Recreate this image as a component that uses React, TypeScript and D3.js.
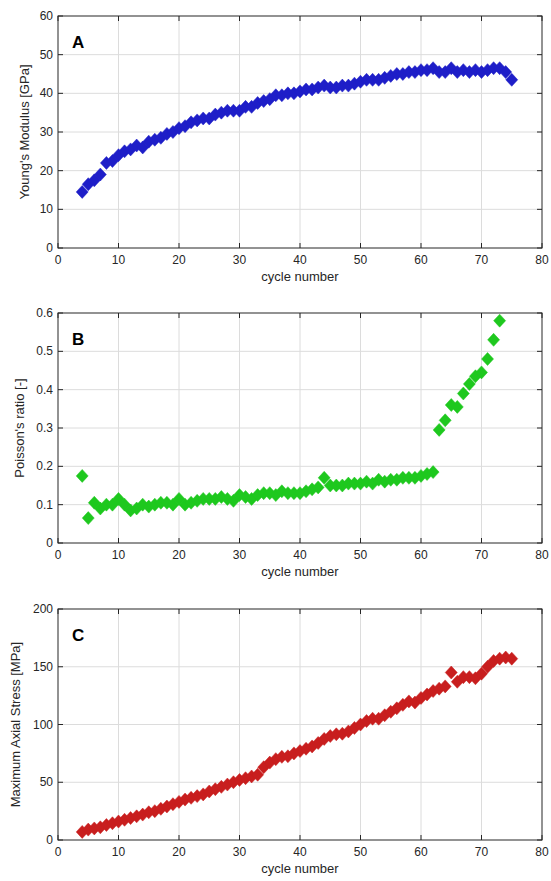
import React from "react";
import * as d3 from "d3";

const cyclesA = d3.range(4, 76);
const youngsModulus = [
  14.5, 16.5, 17.5, 19, 22, 22.5, 24, 25, 25.5, 26.5, 26, 27.5, 28, 28.5, 29.5, 30,
  31, 31.5, 32.5, 33, 33.5, 33.5, 34.5, 35, 35.5, 35.5, 35.5, 36.5, 36.5, 37.5, 38, 38.5,
  39.5, 39.5, 40, 40, 40.5, 41, 41, 41.5, 42, 41.5, 41.5, 42, 42, 42.5, 43, 43.5,
  43.5, 43.5, 44, 44.5, 45, 45, 45.5, 45.5, 46, 46, 46.5, 45.5, 45.5, 46.5, 45.5, 46,
  45.5, 46, 45.5, 46, 46.5, 46.5, 45.5, 43.5,
];

const cyclesB = d3.range(4, 74);
const poissonRatio = [
  0.175, 0.065, 0.105, 0.09, 0.1, 0.1, 0.115, 0.1, 0.085, 0.09, 0.1, 0.095, 0.1, 0.105,
  0.105, 0.1, 0.115, 0.1, 0.105, 0.11, 0.115, 0.115, 0.115, 0.12, 0.115, 0.11, 0.125,
  0.12, 0.115, 0.125, 0.13, 0.13, 0.125, 0.135, 0.13, 0.13, 0.13, 0.135, 0.14, 0.145,
  0.17, 0.15, 0.15, 0.15, 0.155, 0.155, 0.155, 0.16, 0.155, 0.165, 0.16, 0.165, 0.165,
  0.17, 0.17, 0.17, 0.175, 0.18, 0.185, 0.295, 0.32, 0.36, 0.355, 0.39, 0.415, 0.435,
  0.445, 0.48, 0.53, 0.58,
];

const cyclesC = d3.range(4, 76);
const maxAxialStress = [
  7, 9, 10, 11, 13, 14.5, 16, 17.5, 19, 20.5, 22, 24, 25, 27, 29, 31, 33, 35, 36.5, 38,
  39.5, 42, 44, 46, 48, 50, 52, 53.5, 55, 56.5, 63, 67, 70, 72, 72.5, 75, 77, 79, 81, 84,
  87.5, 90, 91.5, 92, 94, 97, 100, 103, 105, 105, 108, 111, 114, 117, 120, 119, 123, 126,
  129, 131, 133, 145, 137, 141, 141, 140, 144, 150, 155, 157, 158, 157,
];

const xTicks = [0, 10, 20, 30, 40, 50, 60, 70, 80];
const yTicksA = [0, 10, 20, 30, 40, 50, 60];
const yTicksB = [0, 0.1, 0.2, 0.3, 0.4, 0.5, 0.6];
const yTicksC = [0, 50, 100, 150, 200];

const AX = "#262626";
const GRID = "#dcdcdc";
const FONT = "'Liberation Sans', Arial, Helvetica, sans-serif";

type PanelProps = {
  letter: string;
  top: number;
  bottom: number;
  xs: number[];
  ys: number[];
  yTicks: number[];
  yMax: number;
  yLabel: string;
  yLabelX: number;
  color: string;
};

const LEFT = 58;
const RIGHT = 542;

function Panel({ letter, top, bottom, xs, ys, yTicks, yMax, yLabel, yLabelX, color }: PanelProps) {
  const x = d3.scaleLinear().domain([0, 80]).range([LEFT, RIGHT]);
  const y = d3.scaleLinear().domain([0, yMax]).range([bottom, top]);
  const tl = 5;
  const hw = 6;
  const hh = 6.5;
  const diamond = (cx: number, cy: number) =>
    `M${cx},${cy - hh}L${cx + hw},${cy}L${cx},${cy + hh}L${cx - hw},${cy}Z`;
  const fmt = (v: number) => (yMax < 1 ? (v === 0 ? "0" : String(+v.toFixed(1))) : String(v));
  return (
    <g>
      {xTicks.slice(1, -1).map((t) => (
        <line key={"gx" + t} x1={x(t)} x2={x(t)} y1={top} y2={bottom} stroke={GRID} strokeWidth={1} />
      ))}
      {yTicks.slice(1, -1).map((t) => (
        <line key={"gy" + t} x1={LEFT} x2={RIGHT} y1={y(t)} y2={y(t)} stroke={GRID} strokeWidth={1} />
      ))}
      {xs.map((c, i) => (
        <path key={"p" + i} d={diamond(x(c), y(ys[i]))} fill={color} stroke={color} strokeWidth={0.5} />
      ))}
      <rect x={LEFT} y={top} width={RIGHT - LEFT} height={bottom - top} fill="none" stroke={AX} strokeWidth={1} />
      {xTicks.map((t) => (
        <g key={"xt" + t}>
          <line x1={x(t)} x2={x(t)} y1={bottom} y2={bottom - tl} stroke={AX} />
          <line x1={x(t)} x2={x(t)} y1={top} y2={top + tl} stroke={AX} />
          <text x={x(t)} y={bottom + 16} textAnchor="middle" fontSize={12} fill={AX} fontFamily={FONT}>
            {t}
          </text>
        </g>
      ))}
      {yTicks.map((t) => (
        <g key={"yt" + t}>
          <line x1={LEFT} x2={LEFT + tl} y1={y(t)} y2={y(t)} stroke={AX} />
          <line x1={RIGHT} x2={RIGHT - tl} y1={y(t)} y2={y(t)} stroke={AX} />
          <text x={LEFT - 5} y={y(t) + 4} textAnchor="end" fontSize={12} fill={AX} fontFamily={FONT}>
            {fmt(t)}
          </text>
        </g>
      ))}
      <text x={(LEFT + RIGHT) / 2} y={bottom + 33} textAnchor="middle" fontSize={13} fill={AX} fontFamily={FONT}>
        cycle number
      </text>
      <text
        transform={`translate(${yLabelX},${(top + bottom) / 2}) rotate(-90)`}
        textAnchor="middle"
        fontSize={13}
        fill={AX}
        fontFamily={FONT}
      >
        {yLabel}
      </text>
      <text x={72} y={top + 32} fontSize={17} fontWeight="bold" fill="#000" fontFamily={FONT}>
        {letter}
      </text>
    </g>
  );
}

export default function App() {
  return (
    <svg
      width={551}
      height={881}
      style={{ position: "absolute", left: 0, top: 0, background: "#fff" }}
    >
      <rect width={551} height={881} fill="#fff" />
      <Panel
        letter="A"
        top={16}
        bottom={248}
        xs={cyclesA}
        ys={youngsModulus}
        yTicks={yTicksA}
        yMax={60}
        yLabel="Young's Modulus [GPa]"
        yLabelX={29}
        color="#1e1ec8"
      />
      <Panel
        letter="B"
        top={313}
        bottom={543}
        xs={cyclesB}
        ys={poissonRatio}
        yTicks={yTicksB}
        yMax={0.6}
        yLabel="Poisson's ratio [-]"
        yLabelX={24}
        color="#1ec81e"
      />
      <Panel
        letter="C"
        top={609}
        bottom={840}
        xs={cyclesC}
        ys={maxAxialStress}
        yTicks={yTicksC}
        yMax={200}
        yLabel="Maximum Axial Stress [MPa]"
        yLabelX={20}
        color="#c81e1e"
      />
    </svg>
  );
}
